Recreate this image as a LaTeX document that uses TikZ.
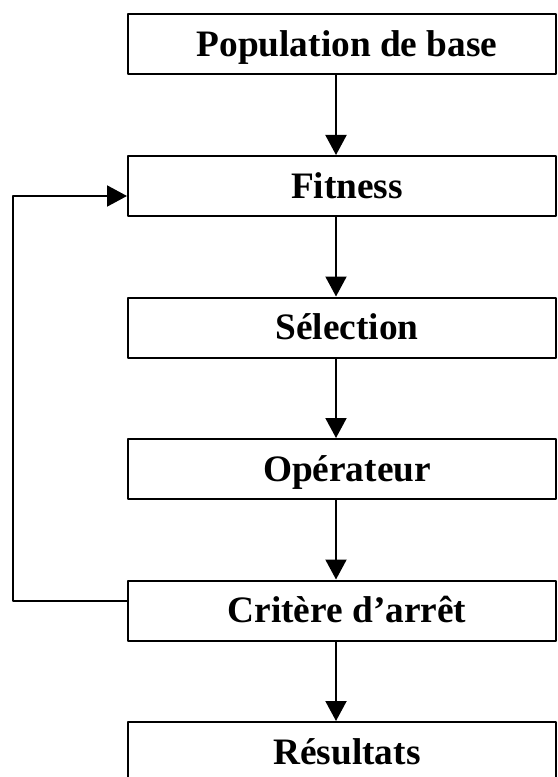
\documentclass[tikz,border=0pt]{standalone}
\usepackage{fontspec}
\setmainfont{Liberation Serif}
\usetikzlibrary{arrows.meta}
\begin{document}
\begin{tikzpicture}[x=0.75pt, y=-0.75pt, line cap=round, line join=round,
  stepbox/.style={draw, line width=1.5pt, rectangle, minimum width=321pt, minimum height=45pt,
    inner sep=0pt, text height=18.5pt, text depth=0pt,
    execute at begin node=\hspace*{7.5pt},
    font=\fontsize{28}{32}\selectfont\bfseries},
  flow/.style={line width=1.5pt, -{Triangle[length=15pt, width=15.75pt]}}]
\useasboundingbox (0,0) rectangle (557,777);
% ---- boxes of the loop ----
\foreach \y/\n/\lab in {44/pop/{Population de base}, 186/fit/{Fitness}, 327.5/sel/{Sélection},
    469/ope/{Opérateur}, 610.5/crit/{Critère d’arrêt}, 752/res/{Résultats}} {
  \node[stepbox] (\n) at (342,\y) {\lab};
}
% ---- downward arrows ----
\foreach \a/\b in {pop/fit, fit/sel, sel/ope, ope/crit, crit/res} {
  \draw[flow] ([xshift=-4.5pt]\a.south) -- ([xshift=-4.5pt]\b.north);
}
% ---- back to fitness ----
\coordinate (back) at (13,400);
\draw[flow] ([yshift=7pt]crit.west) -| (back) |- ([yshift=-7.5pt]fit.west);
\end{tikzpicture}
\end{document}
